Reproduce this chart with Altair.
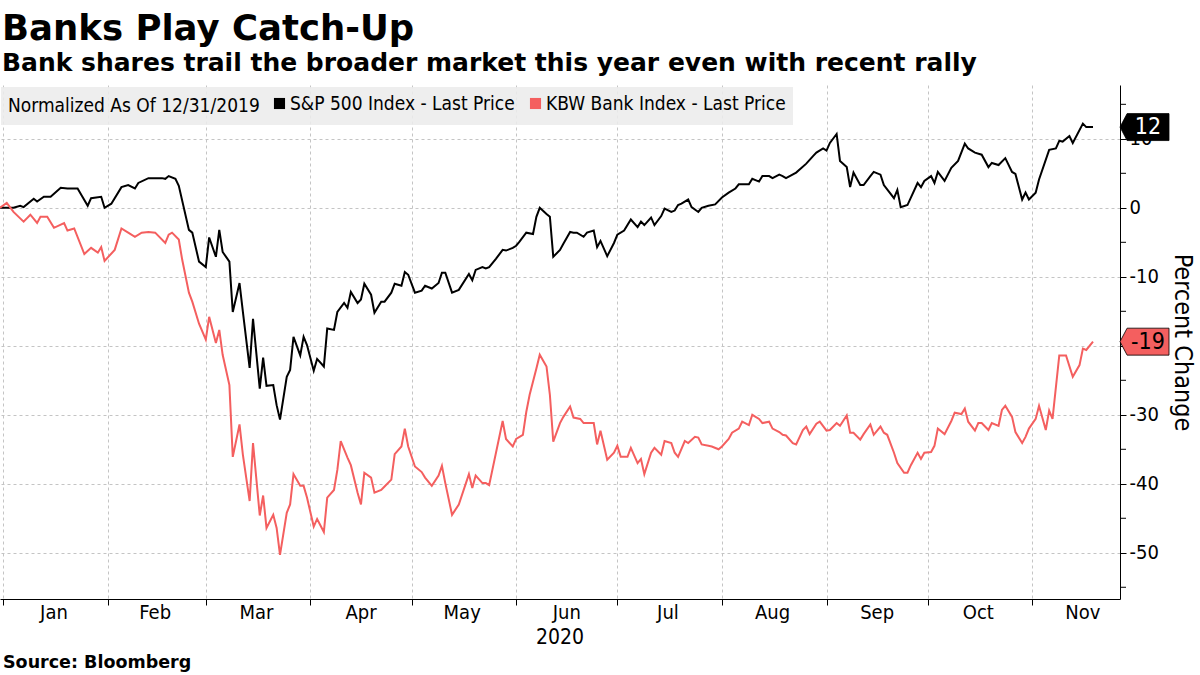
import altair as alt
import pandas as pd

# ---------------- data ----------------
series_names = ["S&P 500 Index - Last Price", "KBW Bank Index - Last Price"]
series_colors = ["#000000", "#f45f5f"]

spx_dates = [
    "2019-12-31", "2020-01-04", "2020-01-06", "2020-01-07", "2020-01-10", "2020-01-11", "2020-01-13",
    "2020-01-15", "2020-01-18", "2020-01-20", "2020-01-23", "2020-01-26", "2020-01-27", "2020-01-30",
    "2020-01-31", "2020-02-02", "2020-02-05", "2020-02-07", "2020-02-09", "2020-02-10", "2020-02-13",
    "2020-02-14", "2020-02-17", "2020-02-18", "2020-02-19", "2020-02-21", "2020-02-22", "2020-02-25",
    "2020-02-26", "2020-02-28", "2020-03-01", "2020-03-02", "2020-03-04", "2020-03-05", "2020-03-06",
    "2020-03-08", "2020-03-09", "2020-03-11", "2020-03-12", "2020-03-14", "2020-03-15", "2020-03-17",
    "2020-03-18", "2020-03-19", "2020-03-21", "2020-03-22", "2020-03-23", "2020-03-25", "2020-03-26",
    "2020-03-27", "2020-03-29", "2020-03-30", "2020-03-31", "2020-04-02", "2020-04-03", "2020-04-05",
    "2020-04-06", "2020-04-08", "2020-04-09", "2020-04-11", "2020-04-12", "2020-04-13", "2020-04-15",
    "2020-04-16", "2020-04-17", "2020-04-19", "2020-04-20", "2020-04-22", "2020-04-23", "2020-04-25",
    "2020-04-26", "2020-04-28", "2020-04-29", "2020-04-30", "2020-05-02", "2020-05-04", "2020-05-05",
    "2020-05-07", "2020-05-09", "2020-05-10", "2020-05-11", "2020-05-13", "2020-05-15", "2020-05-18",
    "2020-05-19", "2020-05-20", "2020-05-22", "2020-05-23", "2020-05-24", "2020-05-26", "2020-05-28",
    "2020-05-29", "2020-05-31", "2020-06-01", "2020-06-02", "2020-06-04", "2020-06-06", "2020-06-07",
    "2020-06-08", "2020-06-10", "2020-06-11", "2020-06-12", "2020-06-14", "2020-06-15", "2020-06-17",
    "2020-06-18", "2020-06-19", "2020-06-21", "2020-06-22", "2020-06-24", "2020-06-25", "2020-06-26",
    "2020-06-28", "2020-06-30", "2020-07-01", "2020-07-03", "2020-07-05", "2020-07-07", "2020-07-08",
    "2020-07-09", "2020-07-11", "2020-07-12", "2020-07-14", "2020-07-15", "2020-07-17", "2020-07-18",
    "2020-07-19", "2020-07-20", "2020-07-22", "2020-07-23", "2020-07-25", "2020-07-26", "2020-07-28",
    "2020-07-30", "2020-08-01", "2020-08-03", "2020-08-05", "2020-08-06", "2020-08-09", "2020-08-10",
    "2020-08-12", "2020-08-13", "2020-08-15", "2020-08-16", "2020-08-18", "2020-08-19", "2020-08-20",
    "2020-08-23", "2020-08-26", "2020-08-28", "2020-08-29", "2020-08-31", "2020-09-01", "2020-09-02",
    "2020-09-04", "2020-09-05", "2020-09-07", "2020-09-08", "2020-09-09", "2020-09-11", "2020-09-12",
    "2020-09-14", "2020-09-15", "2020-09-17", "2020-09-18", "2020-09-21", "2020-09-22", "2020-09-23",
    "2020-09-25", "2020-09-28", "2020-09-29", "2020-09-30", "2020-10-02", "2020-10-03", "2020-10-04",
    "2020-10-06", "2020-10-08", "2020-10-10", "2020-10-12", "2020-10-13", "2020-10-15", "2020-10-17",
    "2020-10-19", "2020-10-20", "2020-10-22", "2020-10-24", "2020-10-26", "2020-10-27", "2020-10-29",
    "2020-10-30", "2020-10-31", "2020-11-02", "2020-11-03", "2020-11-06", "2020-11-08", "2020-11-09",
    "2020-11-10", "2020-11-12", "2020-11-13", "2020-11-16", "2020-11-17", "2020-11-19",
]
spx_values = [
    0.0, 0.0, 0.3, 0.1, 1.3, 0.9, 1.6,
    1.6, 2.9, 2.8, 2.8, 0.3, 1.4, 1.6,
    0.0, 0.6, 3.0, 3.3, 2.8, 3.6, 4.3,
    4.3, 4.3, 4.2, 4.6, 4.2, 3.2, -3.2,
    -3.6, -7.8, -8.6, -4.3, -7.1, -3.2, -6.4,
    -7.8, -15.1, -10.9, -15.1, -23.2, -16.1, -26.2,
    -21.7, -25.8, -25.7, -28.6, -30.7, -24.5, -23.5,
    -18.7, -21.4, -18.7, -19.9, -23.6, -21.9, -23.0,
    -17.5, -17.7, -15.1, -13.8, -14.5, -12.2, -13.8,
    -13.3, -11.0, -12.6, -15.2, -13.6, -13.6, -12.3,
    -11.0, -11.3, -9.3, -9.7, -12.3, -12.0, -11.3,
    -11.7, -10.9, -9.4, -9.4, -12.3, -11.9, -9.6,
    -10.5, -9.0, -8.6, -8.8, -8.6, -7.4, -6.1,
    -6.2, -5.8, -5.5, -4.9, -3.6, -3.8, -1.3,
    0.0, -0.9, -1.3, -7.1, -6.1, -5.2, -3.5,
    -3.6, -3.6, -4.2, -3.6, -3.3, -5.7, -4.8,
    -7.0, -5.1, -3.9, -3.3, -1.7, -2.8, -2.0,
    -2.5, -1.4, -2.5, -1.2, -0.1, -0.6, -0.4,
    0.4, 0.6, 1.2, 0.1, -0.6, 0.0, 0.3,
    0.5, 1.5, 2.2, 2.8, 3.4, 3.4, 4.2,
    3.8, 4.6, 4.6, 4.3, 4.8, 4.6, 4.3,
    5.1, 6.4, 7.5, 8.0, 8.6, 8.3, 9.4,
    10.7, 6.8, 5.9, 3.0, 5.1, 3.3, 3.3,
    4.6, 5.2, 4.8, 3.3, 1.4, 2.6, 0.1,
    0.4, 3.6, 3.0, 3.9, 4.6, 3.6, 5.2,
    3.9, 5.8, 6.8, 9.3, 8.6, 8.0, 7.7,
    5.9, 6.5, 6.2, 7.2, 5.2, 4.9, 1.2,
    2.2, 1.2, 2.2, 4.1, 8.4, 8.6, 9.7,
    9.6, 10.4, 9.4, 12.2, 11.7, 11.7,
]

kbw_dates = [
    "2019-12-31", "2020-01-02", "2020-01-04", "2020-01-07", "2020-01-09", "2020-01-11", "2020-01-12",
    "2020-01-14", "2020-01-16", "2020-01-19", "2020-01-20", "2020-01-22", "2020-01-25", "2020-01-27",
    "2020-01-29", "2020-01-30", "2020-01-31", "2020-02-03", "2020-02-05", "2020-02-07", "2020-02-09",
    "2020-02-11", "2020-02-13", "2020-02-15", "2020-02-18", "2020-02-19", "2020-02-20", "2020-02-22",
    "2020-02-23", "2020-02-25", "2020-02-26", "2020-02-28", "2020-03-01", "2020-03-02", "2020-03-04",
    "2020-03-05", "2020-03-06", "2020-03-08", "2020-03-09", "2020-03-11", "2020-03-12", "2020-03-14",
    "2020-03-15", "2020-03-17", "2020-03-18", "2020-03-19", "2020-03-21", "2020-03-22", "2020-03-23",
    "2020-03-25", "2020-03-26", "2020-03-27", "2020-03-29", "2020-03-30", "2020-03-31", "2020-04-02",
    "2020-04-03", "2020-04-05", "2020-04-06", "2020-04-08", "2020-04-09", "2020-04-10", "2020-04-12",
    "2020-04-13", "2020-04-15", "2020-04-16", "2020-04-17", "2020-04-19", "2020-04-20", "2020-04-22",
    "2020-04-23", "2020-04-25", "2020-04-26", "2020-04-28", "2020-04-29", "2020-04-30", "2020-05-02",
    "2020-05-04", "2020-05-05", "2020-05-07", "2020-05-09", "2020-05-10", "2020-05-11", "2020-05-13",
    "2020-05-15", "2020-05-18", "2020-05-19", "2020-05-20", "2020-05-22", "2020-05-23", "2020-05-24",
    "2020-05-28", "2020-05-29", "2020-05-31", "2020-06-01", "2020-06-03", "2020-06-04", "2020-06-05",
    "2020-06-07", "2020-06-08", "2020-06-10", "2020-06-11", "2020-06-12", "2020-06-14", "2020-06-15",
    "2020-06-17", "2020-06-18", "2020-06-20", "2020-06-21", "2020-06-24", "2020-06-25", "2020-06-26",
    "2020-06-28", "2020-06-30", "2020-07-01", "2020-07-02", "2020-07-04", "2020-07-05", "2020-07-07",
    "2020-07-08", "2020-07-09", "2020-07-11", "2020-07-12", "2020-07-14", "2020-07-15", "2020-07-17",
    "2020-07-18", "2020-07-19", "2020-07-21", "2020-07-22", "2020-07-24", "2020-07-25", "2020-07-26",
    "2020-07-28", "2020-07-29", "2020-07-31", "2020-08-01", "2020-08-03", "2020-08-04", "2020-08-06",
    "2020-08-07", "2020-08-09", "2020-08-10", "2020-08-12", "2020-08-13", "2020-08-15", "2020-08-16",
    "2020-08-18", "2020-08-19", "2020-08-20", "2020-08-22", "2020-08-23", "2020-08-25", "2020-08-26",
    "2020-08-27", "2020-08-29", "2020-08-30", "2020-09-01", "2020-09-02", "2020-09-04", "2020-09-05",
    "2020-09-07", "2020-09-08", "2020-09-09", "2020-09-11", "2020-09-12", "2020-09-14", "2020-09-15",
    "2020-09-17", "2020-09-18", "2020-09-19", "2020-09-21", "2020-09-22", "2020-09-24", "2020-09-25",
    "2020-09-26", "2020-09-28", "2020-09-29", "2020-09-30", "2020-10-02", "2020-10-03", "2020-10-04",
    "2020-10-06", "2020-10-08", "2020-10-09", "2020-10-11", "2020-10-12", "2020-10-13", "2020-10-15",
    "2020-10-16", "2020-10-17", "2020-10-19", "2020-10-20", "2020-10-22", "2020-10-23", "2020-10-24",
    "2020-10-26", "2020-10-27", "2020-10-29", "2020-10-30", "2020-10-31", "2020-11-02", "2020-11-03",
    "2020-11-05", "2020-11-06", "2020-11-07", "2020-11-09", "2020-11-11", "2020-11-13", "2020-11-15",
    "2020-11-16", "2020-11-17", "2020-11-19",
]
kbw_values = [
    0.0, 0.7, -0.6, -2.0, -1.0, -2.2, -1.3,
    -1.3, -2.9, -2.2, -3.3, -3.0, -6.7, -5.8,
    -6.5, -5.7, -7.7, -6.1, -3.0, -3.6, -4.2,
    -3.6, -3.5, -3.6, -5.1, -3.9, -3.6, -4.6,
    -7.5, -12.3, -13.6, -16.8, -19.1, -15.8, -19.6,
    -17.7, -21.3, -25.7, -36.1, -31.4, -35.8, -42.5,
    -34.1, -44.6, -41.7, -46.4, -44.5, -46.4, -50.3,
    -44.2, -43.0, -38.6, -40.3, -40.3, -42.0, -46.2,
    -45.1, -47.0, -42.0, -40.9, -38.0, -33.8, -36.2,
    -37.3, -41.3, -43.0, -38.4, -39.1, -41.3, -40.9,
    -40.4, -39.4, -35.7, -34.6, -32.0, -34.6, -37.5,
    -38.3, -39.1, -40.3, -38.8, -37.4, -39.9, -44.5,
    -43.0, -38.6, -40.6, -38.8, -39.9, -39.9, -40.2,
    -30.9, -33.5, -34.6, -33.5, -32.9, -29.6, -27.1,
    -23.3, -21.3, -23.0, -27.1, -33.9, -31.2, -30.3,
    -28.8, -30.4, -30.6, -31.2, -31.2, -34.3, -32.3,
    -36.5, -35.5, -34.5, -36.1, -36.1, -34.8, -37.0,
    -36.4, -38.6, -35.5, -34.8, -35.8, -33.8, -34.1,
    -35.5, -36.1, -33.8, -34.1, -33.2, -33.3, -34.3,
    -34.5, -34.6, -35.0, -34.6, -33.5, -32.6, -32.0,
    -31.0, -31.5, -30.0, -30.6, -31.2, -31.0, -32.0,
    -32.5, -32.9, -33.0, -34.1, -34.3, -32.2, -31.7,
    -32.8, -31.3, -31.0, -32.3, -32.2, -31.2, -31.6,
    -30.1, -32.6, -32.6, -33.6, -32.8, -31.4, -32.9,
    -31.7, -32.6, -32.9, -35.5, -37.0, -38.4, -38.4,
    -37.3, -35.5, -36.4, -35.5, -35.4, -34.5, -32.0,
    -32.8, -30.9, -29.7, -29.9, -29.1, -31.0, -32.3,
    -31.2, -31.2, -32.2, -31.2, -31.6, -29.3, -28.7,
    -30.3, -32.5, -34.1, -33.2, -32.0, -30.6, -28.7,
    -32.2, -29.4, -30.6, -21.4, -21.4, -24.5, -22.8,
    -20.4, -20.6, -19.4,
]

month_labels = ["Jan", "Feb", "Mar", "Apr", "May", "Jun", "Jul", "Aug", "Sep", "Oct", "Nov"]
month_mid_dates = ["2020-01-16", "2020-02-15", "2020-03-16", "2020-04-16", "2020-05-16", "2020-06-16",
                   "2020-07-16", "2020-08-16", "2020-09-16", "2020-10-16", "2020-11-16"]
year_label = ["2020"]
year_label_date = ["2020-06-14"]
y_label_values = [-50, -40, -30, -20, -10, 0, 10]
y_minor_values = [-55, -45, -35, -25, -15, -5, 5, 15]

title_text = "Banks Play Catch-Up"
subtitle_text = "Bank shares trail the broader market this year even with recent rally"
legend_title = "Normalized As Of 12/31/2019"
y_title = "Percent Change"
source_text = "Source: Bloomberg"

# ---------------- build tables ----------------
df = pd.concat([
    pd.DataFrame({"date": spx_dates, "value": spx_values, "series": series_names[0]}),
    pd.DataFrame({"date": kbw_dates, "value": kbw_values, "series": series_names[1]}),
], ignore_index=True)

last_df = pd.DataFrame({"series": series_names, "value": [spx_values[-1], kbw_values[-1]]})
month_df = pd.DataFrame({"label": month_labels, "date": month_mid_dates})
year_df = pd.DataFrame({"label": year_label, "date": year_label_date})
source_df = pd.DataFrame({"label": [source_text]})
minor_df = pd.DataFrame({"value": y_minor_values})

W, H = 1120, 514
FONT = "DejaVu Sans Condensed, DejaVu Sans"
BOLD_FONT = "DejaVu Sans"

x_scale = alt.Scale(domain=[alt.DateTime(year=2019, month=12, date=31, utc=True),
                            alt.DateTime(year=2020, month=11, date=27, utc=True)])
month_ticks = [alt.DateTime(year=2020, month=m, date=1, utc=True) for m in range(1, 12)]
y_scale = alt.Scale(domain=[-56.7, 17.8], nice=False, zero=False)

y_axis = alt.Axis(
    orient="right", values=y_label_values,
    labelExpr="'' + datum.value",
    tickSize=6, tickColor="black", domainColor="black", labelPadding=3,
    grid=True, gridDash=[3, 3], gridColor="#c4c4c4",
    title=y_title, titleFontSize=25, titleFont=FONT, titleFontWeight="normal",
    titleColor="black", titlePadding=11,
)

lines = alt.Chart(df).mark_line(strokeWidth=2).encode(
    x=alt.X("date:T", scale=x_scale, title=None,
            axis=alt.Axis(values=month_ticks, labels=False, ticks=True, tickSize=6,
                          tickColor="black", domainColor="black", grid=True,
                          gridDash=[3, 3], gridColor="#c4c4c4")),
    y=alt.Y("value:Q", scale=y_scale, axis=y_axis),
    color=alt.Color("series:N", scale=alt.Scale(domain=series_names, range=series_colors),
                    legend=alt.Legend(
                        title=legend_title, orient="none", legendX=1, legendY=2,
                        direction="horizontal", titleOrient="left", gridAlign="none",
                        titleAnchor="middle", titleBaseline="middle", titleLimit=400,
                        titleFont=FONT, titleFontSize=19, titleFontWeight="normal",
                        titleColor="black", labelFont=FONT, labelFontSize=19,
                        labelColor="black", labelLimit=400,
                        symbolType="square", symbolSize=28, symbolStrokeWidth=5.8,
                        fillColor="rgba(236,236,236,0.88)", padding=7, titlePadding=10,
                        columnPadding=6, labelOffset=1)),
)

minor_ticks = alt.Chart(minor_df).mark_rule(color="black", strokeWidth=1).encode(
    y=alt.Y("value:Q", title=y_title), x=alt.value(W), x2=alt.value(W + 6))

month_text = alt.Chart(month_df).mark_text(font=FONT, fontSize=20, color="black",
                                           baseline="middle", align="center").encode(
    x=alt.X("date:T", title=None), y=alt.value(H + 14), text="label:N")

year_text = alt.Chart(year_df).mark_text(font=FONT, fontSize=21, color="black",
                                         baseline="middle", align="center").encode(
    x=alt.X("date:T", title=None), y=alt.value(H + 39), text="label:N")

TAG = "M-1,0 L-0.71,-0.55 L1,-0.55 L1,0.55 L-0.71,0.55 Z"
is_spx = f"datum.series === '{series_names[0]}'"
tags = alt.Chart(last_df).mark_point(shape=TAG, size=2401, filled=True, opacity=1,
                                     stroke="black", strokeWidth=0.8).encode(
    x=alt.value(W + 24.5), y=alt.Y("value:Q", title=y_title),
    fill=alt.condition(is_spx, alt.value("black"), alt.value(series_colors[1])))

tag_text = alt.Chart(last_df).transform_calculate(
    label="'' + round(datum.value)").mark_text(font=FONT, fontSize=23, align="center",
                                               baseline="middle").encode(
    x=alt.value(W + 28), y=alt.Y("value:Q", title=y_title), text="label:N",
    color=alt.condition(is_spx, alt.value("white"), alt.value("black")))

source = alt.Chart(source_df).mark_text(font=BOLD_FONT, fontSize=17.5, fontWeight="bold",
                                        color="black", align="left", baseline="middle").encode(
    x=alt.value(3), y=alt.value(H + 64), text="label:N")

chart = alt.layer(lines, minor_ticks, month_text, year_text, tags, tag_text, source).properties(
    width=W, height=H,
    autosize=alt.AutoSizeParams(type="none"),
    padding={"left": 0, "top": 85, "right": 80, "bottom": 76},
    title=alt.TitleParams(text=title_text, subtitle=subtitle_text, anchor="start",
                          font=BOLD_FONT, fontSize=35.5, fontWeight="bold", color="black",
                          subtitleFont=BOLD_FONT, subtitleFontSize=25,
                          subtitleFontWeight="bold", subtitleColor="black",
                          subtitlePadding=4, offset=9, dx=2, frame="group"),
).configure_view(stroke=None).configure_axis(
    labelFont=FONT, labelFontSize=20, labelColor="black"
)

chart.save("out.html", embed_options={"renderer": "svg", "actions": False})
